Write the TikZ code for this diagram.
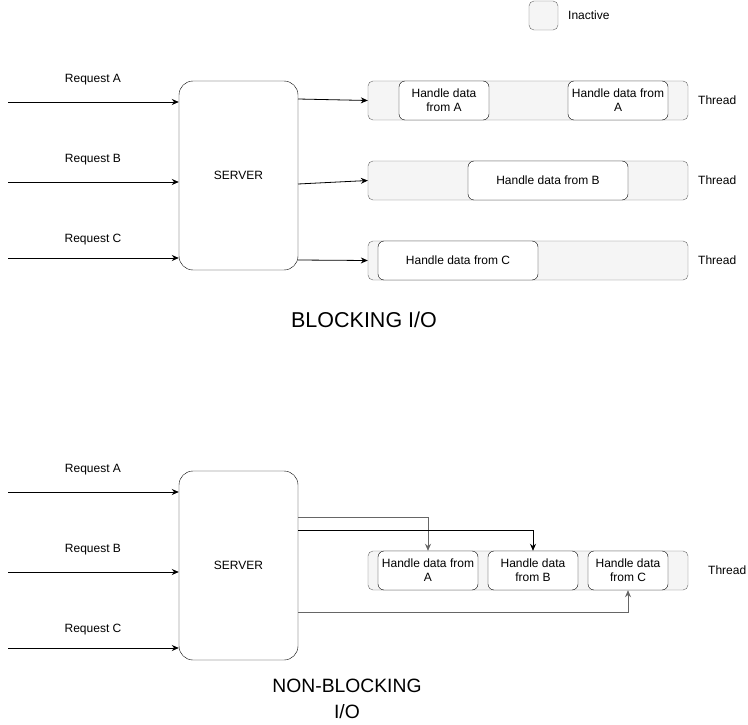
\documentclass[tikz,border=0pt]{standalone}
\usepackage{fontspec}
\setmainfont{Liberation Sans}
\usetikzlibrary{arrows.meta}
\definecolor{inact}{HTML}{F5F5F5}
\definecolor{bord}{HTML}{666666}
\begin{document}
\begin{tikzpicture}[x=1pt,y=-1pt,
  lbl/.style={font=\fontsize{12}{14}\selectfont, inner sep=0pt},
  title/.style={font=\fontsize{21.5}{24}\selectfont, inner sep=0pt, align=center},
  srv/.style={draw=black, fill=white, rounded corners=14pt, minimum width=119pt, minimum height=189pt, inner sep=0pt, font=\fontsize{12}{14}\selectfont},
  bar/.style={draw=bord, fill=inact, rounded corners=5pt, minimum height=39pt, inner sep=0pt},
  hbox/.style={draw=black, fill=white, rounded corners=6pt, minimum height=39pt, inner sep=0pt, align=center, font=\fontsize{12}{14}\selectfont},
  arr/.style={-{Stealth[length=7pt,width=6pt]}, line width=0.8pt},
  garr/.style={arr, draw=bord}
]
\useasboundingbox (0,0) rectangle (748,725);
% legend
\node[bar, minimum width=29pt, minimum height=29pt] (leg) at (543.5,15.5) {};
\node[lbl, anchor=west] (legt) at (568,15) {Inactive};

% ---------- BLOCKING ----------
\node[srv] (s1) at (238.5,175.5) {SERVER};
\coordinate (ia1) at (8,102);
\coordinate (ib1) at (8,182);
\coordinate (ic1) at (8,258);
\node[lbl] (ra1) at (93,80) {Request A};
\node[lbl] (rb1) at (93,160) {Request B};
\node[lbl] (rc1) at (93,240) {Request C};
\draw[arr] (ia1) -- (ia1 -| s1.west);
\draw[arr] (ib1) -- (ib1 -| s1.west);
\draw[arr] (ic1) -- (ic1 -| s1.west);

\node[bar, minimum width=320pt] (t1) at (528,100.5) {};
\node[bar, minimum width=320pt] (t2) at (528,180.5) {};
\node[bar, minimum width=320pt] (t3) at (528,260.5) {};
\node[hbox, minimum width=90pt] (ha1) at (444,100.5) {Handle data\\from A};
\node[hbox, minimum width=100pt] (ha2) at (618,100.5) {Handle data from\\A};
\node[hbox, minimum width=160pt] (hb) at (548,180.5) {Handle data from B};
\node[hbox, minimum width=160pt] (hc) at (458,260.5) {Handle data from C};
\node[lbl, anchor=west] (th1) at (698,100) {Thread};
\node[lbl, anchor=west] (th2) at (698,180) {Thread};
\node[lbl, anchor=west] (th3) at (698,260) {Thread};

\coordinate (o1) at (298,99);
\coordinate (o2) at (298,184);
\coordinate (o3) at (298,260);
\draw[arr] (o1) -- (t1.west);
\draw[arr] (o2) -- (t2.west);
\draw[arr] (o3) -- (t3.west);

\node[title] (bt) at (364,320) {BLOCKING I/O};

% ---------- NON-BLOCKING ----------
\node[srv] (s2) at (238.5,565.5) {SERVER};
\coordinate (ia2) at (8,492);
\coordinate (ib2) at (8,572);
\coordinate (ic2) at (8,648);
\node[lbl] (ra2) at (93,470) {Request A};
\node[lbl] (rb2) at (93,550) {Request B};
\node[lbl] (rc2) at (93,630) {Request C};
\draw[arr] (ia2) -- (ia2 -| s2.west);
\draw[arr] (ib2) -- (ib2 -| s2.west);
\draw[arr] (ic2) -- (ic2 -| s2.west);

\node[bar, minimum width=320pt] (t4) at (528,570.5) {};
\node[hbox, minimum width=100pt] (na) at (428,570.5) {Handle data from\\A};
\node[hbox, minimum width=90pt] (nb) at (533,570.5) {Handle data\\from B};
\node[hbox, minimum width=80pt] (nc) at (628,570.5) {Handle data\\from C};
\node[lbl, anchor=west] (th4) at (708,570) {Thread};

\coordinate (p1) at (298,517);
\coordinate (p2) at (298,530);
\coordinate (p3) at (298,612);
\draw[garr] (p1) -| (na.north);
\draw[arr] (p2) -| (nb.north);
\draw[garr] (p3) -| (nc.south);

\node[title, font=\fontsize{19.3}{26}\selectfont] (nt) at (347,699) {NON-BLOCKING\\I/O};
\end{tikzpicture}
\end{document}
